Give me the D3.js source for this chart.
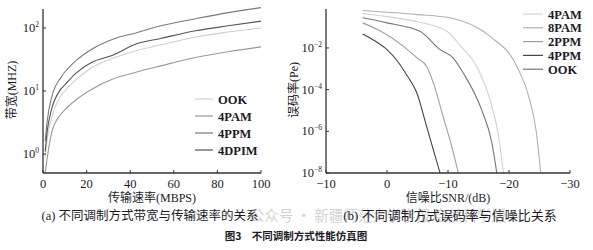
<!DOCTYPE html>
<html>
<head>
<meta charset="utf-8">
<script src="https://cdn.jsdelivr.net/npm/d3@7"></script>
<style>
  body { margin: 0; background: #fff; }
  svg { display: block; }
  text { font-family: "Liberation Serif", "Noto Sans CJK SC", serif; fill: #1c1c28; }
  .cjk { font-family: "Liberation Serif", "Noto Sans CJK SC", serif; }
</style>
</head>
<body>
<svg id="chart" width="593" height="250"></svg>
<script>

// ##################################################
// #  Data                                          #
// ##################################################

// (a) bandwidth (MHZ) vs transmission rate (MBPS)
const rateX = [1, 2, 4, 8, 10, 15, 22, 32, 43, 54, 70, 85, 100];
const bwOOK = [0.9, 1.8, 3.8, 8.2, 10, 15, 23, 33, 44, 54, 72, 86, 100];
const bw4PAM = [0.5, 0.9, 2.2, 4.2, 5.0, 7.2, 10.5, 15.5, 20, 25, 34, 42, 50];
const bw4PPM = [1.6, 3.5, 8, 16, 20, 30, 45, 66, 84, 108, 140, 175, 210];
const bw4DPIM = [1.1, 2.4, 5.2, 10.5, 12.5, 19, 28, 37, 56, 68, 90, 108, 128];
const rateTicks = [0, 20, 40, 60, 80, 100];
const bwTicks = [1, 10, 100];
const bwTickExp = ['0', '1', '2'];

// (b) error rate (Pe) vs SNR (dB)
const snr4PAM = [-4, 0, 5, 9.8, 12, 14.7, 16.9, 18.2, 19.1];
const pe4PAM = [0.45, 0.32, 0.18, 6.3e-2, 1.3e-2, 1.3e-3, 3.2e-5, 8.3e-7, 1e-8];
const snr8PAM = [-4, 0, 5, 10.3, 16.9, 21.3, 23.4, 24.5, 25.2];
const pe8PAM = [0.63, 0.52, 0.4, 0.28, 3.6e-2, 1.3e-3, 3.2e-5, 8.3e-7, 1e-8];
const snr2PPM = [-4, -1, 2.7, 5, 6.5, 7.6, 9.2, 10.5, 11.7];
const pe2PPM = [0.16, 6.3e-2, 1.2e-2, 3.2e-3, 1.3e-3, 2.1e-4, 5.1e-6, 2.5e-7, 1e-8];
const snr4PPM = [-4, -2, 0, 2, 3.2, 4.9, 6.5, 7.6, 8.7];
const pe4PPM = [4.7e-2, 2.2e-2, 8.3e-3, 1.8e-3, 5.2e-4, 6.9e-5, 1.7e-6, 1.3e-7, 1e-8];
const snrOOK = [-4, 0, 5.4, 8.7, 10.9, 12.5, 15.5, 17.2, 18.0];
const peOOK = [0.28, 0.16, 6.3e-2, 8.3e-3, 3.2e-3, 6.3e-4, 1.1e-5, 2.7e-7, 1e-8];
const snrTicks = [-10, 0, 10, 20, 30];
const snrTickLabels = ['\u221210', '0', '\u221210', '\u221220', '\u221230'];
const peTicks = [1e-2, 1e-4, 1e-6, 1e-8];
const peTickExp = ['\u22122', '\u22124', '\u22126', '\u22128'];

const svg = d3.select('#chart');

// ##################################################
// #  Panel (a)                                     #
// ##################################################

const xA = d3.scaleLinear().domain([0, 100]).range([43, 261]);
const yA = d3.scaleLog().domain([Math.pow(10, -0.3), Math.pow(10, 2.3)]).range([173, 9]);

const seriesA = [
    { name: 'OOK', values: bwOOK, color: '#cfcfcf' },
    { name: '4PAM', values: bw4PAM, color: '#9a9a9a' },
    { name: '4PPM', values: bw4PPM, color: '#7a7a7a' },
    { name: '4DPIM', values: bw4DPIM, color: '#555' }
];

svg.append('clipPath').attr('id', 'clipA')
    .append('rect').attr('x', 43).attr('y', 0).attr('width', 220).attr('height', 173);

let lineA = d3.line()
    .x((d, i) => xA(rateX[i]))
    .y(d => yA(d))
    .curve(d3.curveMonotoneX);

let gA = svg.append('g').attr('clip-path', 'url(#clipA)');
gA.selectAll('path')
    .data(seriesA)
    .enter()
    .append('path')
    .attr('d', d => lineA(d.values))
    .attr('fill', 'none')
    .attr('stroke', d => d.color)
    .attr('stroke-width', 1.1);

drawAxes(xA, yA, rateTicks, rateTicks.map(String), bwTicks, bwTickExp, 9);

// legend (a)
let legA = svg.append('g');
seriesA.forEach((s, i) => {
    let y = 99 + i * 17;
    legA.append('line').attr('x1', 195).attr('x2', 213).attr('y1', y).attr('y2', y)
        .attr('stroke', s.color).attr('stroke-width', 1.2);
    legA.append('text').attr('x', 218).attr('y', y + 4.5)
        .attr('font-size', 12.5).attr('font-weight', 'bold').text(s.name);
});

svg.append('text').attr('class', 'cjk')
    .attr('transform', 'translate(16,90) rotate(-90)')
    .attr('text-anchor', 'middle').attr('font-size', 12).text('带宽(MHZ)');
svg.append('text').attr('class', 'cjk')
    .attr('x', 152).attr('y', 202).attr('text-anchor', 'middle')
    .attr('font-size', 12).text('传输速率(MBPS)');

// ##################################################
// #  Panel (b)                                     #
// ##################################################

const xB = d3.scaleLinear().domain([-10, 30]).range([326, 570]);
const yB = d3.scaleLog().domain([1e-8, Math.pow(10, -0.13)]).range([173, 9]);

const seriesB = [
    { name: '4PAM', x: snr4PAM, values: pe4PAM, color: '#d2d2d2' },
    { name: '8PAM', x: snr8PAM, values: pe8PAM, color: '#b0b0b0' },
    { name: '2PPM', x: snr2PPM, values: pe2PPM, color: '#a0a0a0' },
    { name: '4PPM', x: snr4PPM, values: pe4PPM, color: '#444' },
    { name: 'OOK', x: snrOOK, values: peOOK, color: '#777' }
];

let gB = svg.append('g');
seriesB.forEach(s => {
    let line = d3.line()
        .x((d, i) => xB(s.x[i]))
        .y(d => yB(d))
        .curve(d3.curveMonotoneX);
    gB.append('path')
        .attr('d', line(s.values))
        .attr('fill', 'none')
        .attr('stroke', s.color)
        .attr('stroke-width', 1.1);
});

drawAxes(xB, yB, snrTicks, snrTickLabels, peTicks, peTickExp, 9);

// legend (b)
let legB = svg.append('g');
seriesB.forEach((s, i) => {
    let y = 14 + i * 13.8;
    legB.append('line').attr('x1', 523).attr('x2', 543).attr('y1', y).attr('y2', y)
        .attr('stroke', s.color).attr('stroke-width', 1.2);
    legB.append('text').attr('x', 548).attr('y', y + 4.5)
        .attr('font-size', 12.5).attr('font-weight', 'bold').text(s.name);
});

svg.append('text').attr('class', 'cjk')
    .attr('transform', 'translate(298,90) rotate(-90)')
    .attr('text-anchor', 'middle').attr('font-size', 12).text('误码率(Pe)');
svg.append('text').attr('class', 'cjk')
    .attr('x', 448).attr('y', 202).attr('text-anchor', 'middle')
    .attr('font-size', 12).text('信噪比SNR/(dB)');

// ##################################################
// #  Captions                                      #
// ##################################################

// faint watermark sits behind the (b) caption, as in the source image
svg.append('text')
    .attr('x', 506).attr('y', 221).attr('text-anchor', 'end')
    .attr('font-size', 14.5).style('font-family', '"Noto Sans CJK SC", sans-serif')
    .style('fill', '#c8c8c8').style('opacity', 0.8)
    .text('公众号 · 新疆师范大学学报 自然科学版');
svg.append('text').attr('class', 'cjk')
    .attr('x', 150).attr('y', 220).attr('text-anchor', 'middle')
    .attr('font-size', 12.5).text('(a) 不同调制方式带宽与传输速率的关系');
svg.append('text').attr('class', 'cjk')
    .attr('x', 450).attr('y', 220).attr('text-anchor', 'middle')
    .attr('font-size', 13).text('(b) 不同调制方式误码率与信噪比关系');
svg.append('text')
    .attr('x', 296).attr('y', 240).attr('text-anchor', 'middle')
    .attr('font-size', 10.5).attr('font-weight', 'bold')
    .style('font-family', '"Noto Sans CJK SC", sans-serif')
    .text('图3\u2003不同调制方式性能仿真图');

// ##################################################
// #  Axes helper                                   #
// ##################################################

function drawAxes(x, y, xTicks, xLabels, yTicks, yExp, top) {
    let x0 = x.range()[0], x1 = x.range()[1];
    let y0 = y.range()[0];
    let g = svg.append('g');

    g.append('line').attr('x1', x0).attr('x2', x1).attr('y1', y0).attr('y2', y0)
        .attr('stroke', '#333').attr('stroke-width', 1.3);
    g.append('line').attr('x1', x0).attr('x2', x0).attr('y1', top).attr('y2', y0)
        .attr('stroke', '#333').attr('stroke-width', 1.3);

    xTicks.forEach((t, i) => {
        g.append('line').attr('x1', x(t)).attr('x2', x(t)).attr('y1', y0).attr('y2', y0 - 3)
            .attr('stroke', '#333');
        g.append('text').attr('x', x(t)).attr('y', y0 + 15).attr('text-anchor', 'middle')
            .attr('font-size', 12.5).text(xLabels[i]);
    });

    yTicks.forEach((t, i) => {
        g.append('line').attr('x1', x0).attr('x2', x0 + 3).attr('y1', y(t)).attr('y2', y(t))
            .attr('stroke', '#333');
        let label = g.append('text').attr('x', x0 - 4).attr('y', y(t) + 4)
            .attr('text-anchor', 'end').attr('font-size', 12.5);
        label.append('tspan').text('10');
        label.append('tspan').attr('dy', -5).attr('font-size', 7.5).text(yExp[i]);
    });
}

</script>
</body>
</html>
